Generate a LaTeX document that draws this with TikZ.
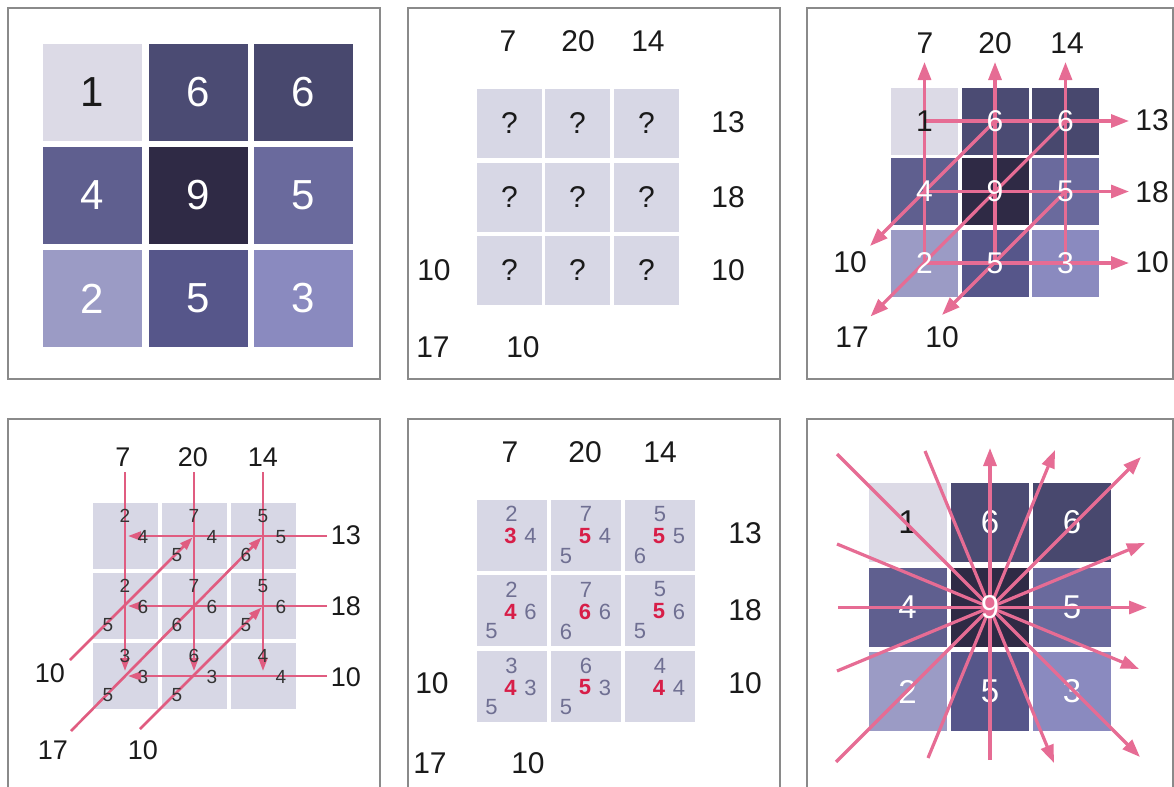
\documentclass[tikz,border=0pt]{standalone}
\usepackage{fontspec}
\setmainfont{Liberation Sans}
\usetikzlibrary{arrows.meta}
\definecolor{cOne}{HTML}{DCDAE6}
\definecolor{cSixA}{HTML}{4B4B73}
\definecolor{cSixB}{HTML}{48486E}
\definecolor{cFour}{HTML}{5F5F8F}
\definecolor{cNine}{HTML}{2F2A45}
\definecolor{cFiveA}{HTML}{6A6A9D}
\definecolor{cTwo}{HTML}{9B9BC5}
\definecolor{cFiveB}{HTML}{56568A}
\definecolor{cThree}{HTML}{8A8ABF}
\definecolor{cellGrey}{HTML}{D7D7E5}
\definecolor{pinkA}{HTML}{E66C94}
\definecolor{pinkB}{HTML}{E05C80}
\definecolor{frameGray}{HTML}{8A8A8A}
\definecolor{smallGrey}{HTML}{6F6F92}
\definecolor{redNum}{HTML}{D71E48}
\definecolor{txtBlack}{HTML}{1A1A1A}
\definecolor{txtDark}{HTML}{333333}
\begin{document}
\begin{tikzpicture}[x=0.5pt,y=-0.5pt,
  frame/.style={draw=frameGray,line width=0.8pt},
  big/.style={inner sep=0pt,font=\fontsize{15}{17}\selectfont,text=txtBlack},
  lb4/.style={inner sep=0pt,font=\fontsize{13.5}{15}\selectfont,text=txtBlack},
  cA/.style={inner sep=0pt,minimum width=49.5pt,minimum height=48.5pt,font=\fontsize{21}{24}\selectfont,text=white},
  cB/.style={inner sep=0pt,minimum width=32.5pt,minimum height=34.5pt,fill=cellGrey,font=\fontsize{15}{17}\selectfont,text=txtBlack},
  cC/.style={inner sep=0pt,minimum width=33.5pt,minimum height=33.5pt},
  dC/.style={inner sep=0pt,font=\fontsize{15}{17}\selectfont,text=white},
  cD/.style={inner sep=0pt,minimum width=32.5pt,minimum height=33pt,fill=cellGrey},
  cE/.style={inner sep=0pt,minimum width=35pt,minimum height=35.5pt,fill=cellGrey},
  cF/.style={inner sep=0pt,minimum width=39pt,minimum height=39.5pt},
  dF/.style={inner sep=0pt,font=\fontsize{16.5}{19}\selectfont,text=white},
  sm4/.style={inner sep=0pt,font=\fontsize{9.5}{11}\selectfont,text=txtDark},
  sm5/.style={inner sep=0pt,font=\fontsize{11}{13}\selectfont,text=smallGrey},
  rd5/.style={inner sep=0pt,font=\bfseries\fontsize{11}{13}\selectfont,text=redNum},
  arr/.style={draw=pinkA,line width=1.6pt,-{Triangle[length=9pt,width=6.5pt]}},
  arrs/.style={draw=pinkB,line width=1.3pt,-{Triangle[length=6.5pt,width=4.4pt]}},
]
\useasboundingbox (0,0) rectangle (1174,787);

% ---------- frames ----------
\draw[frame] (8,8) rectangle (380,379);
\draw[frame] (408,8) rectangle (780,379);
\draw[frame] (1173,8) -- (807,8) -- (807,379) -- (1173,379) -- cycle;
\draw[frame] (8,790) -- (8,419) -- (380,419) -- (380,790);
\draw[frame] (408,790) -- (408,419) -- (780,419) -- (780,790);
\draw[frame] (807,790) -- (807,419) -- (1173,419) -- (1173,790);

% ---------- panel 1 ----------
\node[cA,fill=cOne,text=txtBlack] (p1c11) at (92.5,92.5) {1};
\node[cA,fill=cSixA] (p1c12) at (198,92.5) {6};
\node[cA,fill=cSixB] (p1c13) at (303.5,92.5) {6};
\node[cA,fill=cFour] (p1c21) at (92.5,195.5) {4};
\node[cA,fill=cNine] (p1c22) at (198,195.5) {9};
\node[cA,fill=cFiveA] (p1c23) at (303.5,195.5) {5};
\node[cA,fill=cTwo] (p1c31) at (92.5,298.5) {2};
\node[cA,fill=cFiveB] (p1c32) at (198,298.5) {5};
\node[cA,fill=cThree] (p1c33) at (303.5,298.5) {3};

% ---------- panel 2 ----------
\foreach \r/\y in {1/123,2/197,3/270.5}{
  \foreach \c/\x in {1/509.5,2/577.5,3/646.5}{
    \node[cB] (p2c\r\c) at (\x,\y) {?};
  }
}
\node[big] (p2t1) at (508,41) {7};
\node[big] (p2t2) at (578,41) {20};
\node[big] (p2t3) at (648,41) {14};
\node[big] (p2r1) at (728,122) {13};
\node[big] (p2r2) at (728,197) {18};
\node[big] (p2r3) at (728,270) {10};
\node[big] (p2l1) at (434,270) {10};
\node[big] (p2l2) at (433,347) {17};
\node[big] (p2l3) at (523,347) {10};

% ---------- panel 3 ----------
\node[cC,fill=cOne] (p3c11) at (924.5,121) {};
\node[cC,fill=cSixA] (p3c12) at (995,121) {};
\node[cC,fill=cSixB] (p3c13) at (1065.5,121) {};
\node[cC,fill=cFour] (p3c21) at (924.5,191.5) {};
\node[cC,fill=cNine] (p3c22) at (995,191.5) {};
\node[cC,fill=cFiveA] (p3c23) at (1065.5,191.5) {};
\node[cC,fill=cTwo] (p3c31) at (924.5,263) {};
\node[cC,fill=cFiveB] (p3c32) at (995,263) {};
\node[cC,fill=cThree] (p3c33) at (1065.5,263) {};
\coordinate (p3v1) at (924.5,62);
\coordinate (p3v2) at (995,62);
\coordinate (p3v3) at (1065.5,62);
\coordinate (p3h1) at (1129,121);
\coordinate (p3h2) at (1129,191.5);
\coordinate (p3h3) at (1129,263);
\coordinate (p3d1) at (870,246);
\coordinate (p3d2) at (870.5,316.5);
\coordinate (p3d3) at (942,315);
\draw[arr] (p3c31.center) -- (p3v1);
\draw[arr] (p3c32.center) -- (p3v2);
\draw[arr] (p3c33.center) -- (p3v3);
\draw[arr] (p3c11.center) -- (p3h1);
\draw[arr] (p3c21.center) -- (p3h2);
\draw[arr] (p3c31.center) -- (p3h3);
\draw[arr] (p3c12.center) -- (p3d1);
\draw[arr] (p3c13.center) -- (p3d2);
\draw[arr] (p3c23.center) -- (p3d3);
\node[dC,text=txtBlack] (p3n11) at (p3c11) {1};
\node[dC] (p3n12) at (p3c12) {6};
\node[dC] (p3n13) at (p3c13) {6};
\node[dC] (p3n21) at (p3c21) {4};
\node[dC] (p3n22) at (p3c22) {9};
\node[dC] (p3n23) at (p3c23) {5};
\node[dC] (p3n31) at (p3c31) {2};
\node[dC] (p3n32) at (p3c32) {5};
\node[dC] (p3n33) at (p3c33) {3};
\node[big] (p3t1) at (925,43) {7};
\node[big] (p3t2) at (995,43) {20};
\node[big] (p3t3) at (1067,43) {14};
\node[big] (p3r1) at (1152,120) {13};
\node[big] (p3r2) at (1152,192) {18};
\node[big] (p3r3) at (1152,262) {10};
\node[big] (p3l1) at (850,262) {10};
\node[big] (p3l2) at (852,337) {17};
\node[big] (p3l3) at (942,337) {10};

% ---------- panel 4 ----------
\foreach \r/\y in {1/536,2/606,3/676}{
  \foreach \c/\x in {1/125,2/194,3/263}{
    \node[cD] (p4c\r\c) at (\x,\y) {};
  }
}
\coordinate (p4v1) at (125,472);
\coordinate (p4v2) at (194,472);
\coordinate (p4v3) at (263,472);
\coordinate (p4h1) at (327,536);
\coordinate (p4h2) at (327,606);
\coordinate (p4h3) at (327,676);
\coordinate (p4d1) at (70,660);
\coordinate (p4d2) at (71,731);
\coordinate (p4d3) at (140,729);
\draw[arrs,shorten >=2.5pt] (p4v1) -- (p4c31.center);
\draw[arrs,shorten >=2.5pt] (p4v2) -- (p4c32.center);
\draw[arrs,shorten >=2.5pt] (p4v3) -- (p4c33.center);
\draw[arrs,shorten >=1.5pt] (p4h1) -- (p4c11.center);
\draw[arrs,shorten >=1.5pt] (p4h2) -- (p4c21.center);
\draw[arrs,shorten >=1.5pt] (p4h3) -- (p4c31.center);
\draw[arrs,shorten >=1pt] (p4d1) -- (p4c12.center);
\draw[arrs,shorten >=1pt] (p4d2) -- (p4c13.center);
\draw[arrs,shorten >=1pt] (p4d3) -- (p4c23.center);
% small numbers: top, right
\foreach \n/\t/\rr in {11/2/4,12/7/4,13/5/5,21/2/6,22/7/6,23/5/6,31/3/3,32/6/3,33/4/4}{
  \node[sm4] (p4t\n) at ([shift={(0,-20)}]p4c\n.center) {\t};
  \node[sm4] (p4r\n) at ([shift={(18,1)}]p4c\n.center) {\rr};
}
% small numbers: diagonal
\foreach \n/\d in {12/5,13/6,21/5,22/6,23/5,31/5,32/5}{
  \node[sm4] (p4g\n) at ([shift={(-17,19)}]p4c\n.center) {\d};
}
\node[lb4] (p4tt1) at (123,457) {7};
\node[lb4] (p4tt2) at (193,457) {20};
\node[lb4] (p4tt3) at (263,457) {14};
\node[lb4] (p4rr1) at (346,535) {13};
\node[lb4] (p4rr2) at (346,606) {18};
\node[lb4] (p4rr3) at (346,677) {10};
\node[lb4] (p4ll1) at (50,673) {10};
\node[lb4] (p4ll2) at (53,750) {17};
\node[lb4] (p4ll3) at (143,750) {10};

% ---------- panel 5 ----------
\foreach \r/\y in {1/535,2/610.5,3/686.5}{
  \foreach \c/\x in {1/511.5,2/586,3/660}{
    \node[cE] (p5c\r\c) at (\x,\y) {};
  }
}
\foreach \n/\t/\m/\rr in {11/2/3/4,12/7/5/4,13/5/5/5,21/2/4/6,22/7/6/6,23/5/5/6,31/3/4/3,32/6/5/3,33/4/4/4}{
  \node[sm5] (p5t\n) at ([shift={(0,-21)}]p5c\n.center) {\t};
  \node[rd5] (p5m\n) at ([shift={(-1,1)}]p5c\n.center) {\m};
  \node[sm5] (p5r\n) at ([shift={(19,1)}]p5c\n.center) {\rr};
}
\foreach \n/\d in {12/5,13/6,21/5,22/6,23/5,31/5,32/5}{
  \node[sm5] (p5g\n) at ([shift={(-20,21)}]p5c\n.center) {\d};
}
\node[big] (p5tt1) at (510,452) {7};
\node[big] (p5tt2) at (585,452) {20};
\node[big] (p5tt3) at (660,452) {14};
\node[big] (p5rr1) at (745,533) {13};
\node[big] (p5rr2) at (745,610) {18};
\node[big] (p5rr3) at (745,683) {10};
\node[big] (p5ll1) at (432,683) {10};
\node[big] (p5ll2) at (430,763) {17};
\node[big] (p5ll3) at (528,763) {10};

% ---------- panel 6 ----------
\node[cF,fill=cOne] (p6c11) at (907.5,522) {};
\node[cF,fill=cSixA] (p6c12) at (990,522) {};
\node[cF,fill=cSixB] (p6c13) at (1072,522) {};
\node[cF,fill=cFour] (p6c21) at (907.5,607.5) {};
\node[cF,fill=cNine] (p6c22) at (990,607.5) {};
\node[cF,fill=cFiveA] (p6c23) at (1072,607.5) {};
\node[cF,fill=cTwo] (p6c31) at (907.5,691.5) {};
\node[cF,fill=cFiveB] (p6c32) at (990,691.5) {};
\node[cF,fill=cThree] (p6c33) at (1072,691.5) {};
\node[dF,text=txtBlack] (p6n11) at (p6c11) {1};
\node[dF] (p6n12) at (p6c12) {6};
\node[dF] (p6n13) at (p6c13) {6};
\node[dF] (p6n21) at (p6c21) {4};
\node[dF] (p6n23) at (p6c23) {5};
\node[dF] (p6n31) at (p6c31) {2};
\node[dF] (p6n32) at (p6c32) {5};
\node[dF] (p6n33) at (p6c33) {3};
\coordinate (p6s1) at (838,607.5);  \coordinate (p6e1) at (1147,607.5);
\coordinate (p6s2) at (837,671);    \coordinate (p6e2) at (1145,543);
\coordinate (p6s3) at (836,762);    \coordinate (p6e3) at (1141,457);
\coordinate (p6s4) at (928,758);    \coordinate (p6e4) at (1055,450);
\coordinate (p6s5) at (990,760);    \coordinate (p6e5) at (990,448);
\coordinate (p6s6) at (925,451);    \coordinate (p6e6) at (1054,763);
\coordinate (p6s7) at (837,454);    \coordinate (p6e7) at (1140,757);
\coordinate (p6s8) at (837,544);    \coordinate (p6e8) at (1139,669);
\foreach \i in {1,...,8}{
  \draw[arr] (p6s\i) -- (p6e\i);
}
\node[dF] (p6n22) at (p6c22) {9};
\end{tikzpicture}
\end{document}
